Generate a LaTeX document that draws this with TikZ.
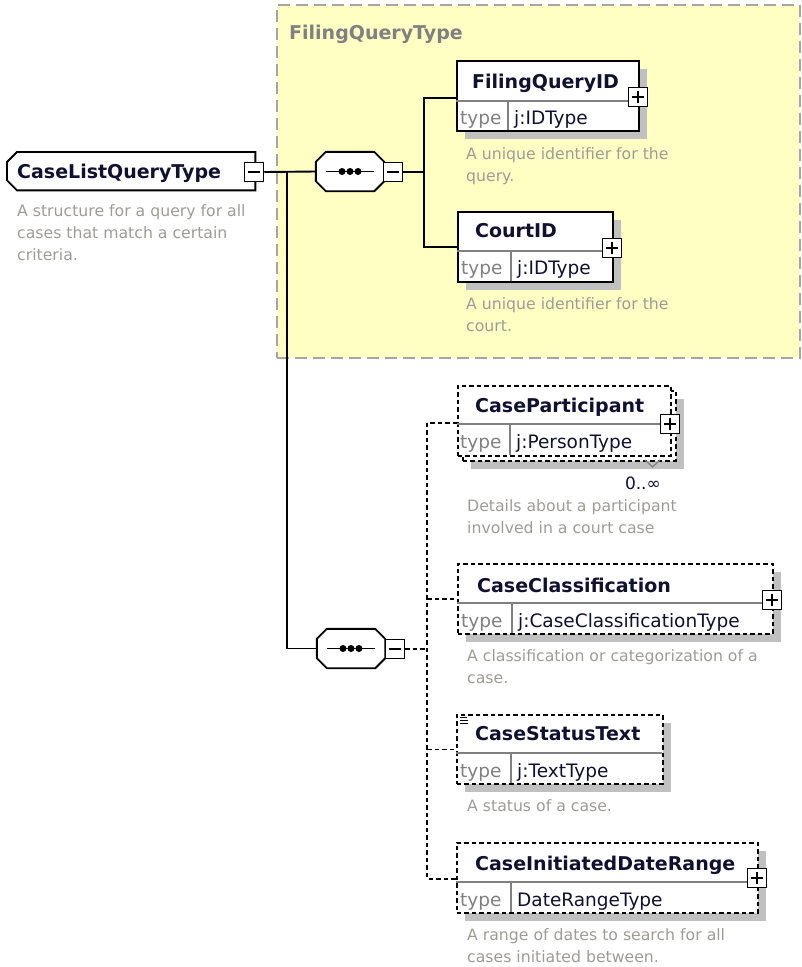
\documentclass[tikz,border=0pt]{standalone}
\usepackage{fontspec}
\setmainfont{DejaVu Sans}
\usetikzlibrary{shadows}
\definecolor{grpfill}{RGB}{255,255,196}
\definecolor{grpline}{RGB}{165,165,165}
\definecolor{shade}{RGB}{192,192,192}
\definecolor{desccol}{RGB}{158,156,150}
\definecolor{namecol}{RGB}{16,16,48}
\definecolor{typecol}{RGB}{128,128,128}
\definecolor{titlecol}{RGB}{128,128,128}
\tikzset{
  shadowed/.style={drop shadow={shadow xshift=8pt,shadow yshift=-8pt,opacity=1,fill=shade}},
  ebox/.style={rectangle,draw=black,line width=1.9pt,fill=white,inner sep=0pt},
  dbox/.style={ebox,line width=1.7pt,dash pattern=on 4.5pt off 3pt},
  divline/.style={draw=typecol,line width=1.2pt},
  pmbox/.style={rectangle,draw=black,line width=1.5pt,fill=white,minimum size=19pt,inner sep=0pt},
  pmsign/.style={black,line width=1.5pt},
  conn/.style={black,line width=1.9pt},
  dconn/.style={conn,line width=1.7pt,dash pattern=on 4.5pt off 3pt},
  octline/.style={draw=black,line width=1.9pt,fill=white},
  namet/.style={font=\fontsize{19}{22}\selectfont\bfseries,text=namecol,inner sep=0pt,anchor=base west},
  titlet/.style={namet,text=titlecol},
  typet/.style={font=\fontsize{18.5}{22}\selectfont,text=typecol,inner sep=0pt,anchor=base west},
  typev/.style={typet,text=namecol},
  desc/.style={font=\fontsize{15.7}{22}\selectfont,text=desccol,inner sep=0pt,anchor=base west,align=left},
  holder/.style={rectangle,inner sep=0pt},
}
% element box: name, style, x1, y1, x2, y2, ydiv, xcol
\newcommand{\ebx}[8]{%
  \node[#2,anchor=north west,minimum width={#5-#3},minimum height={#6-#4}] (#1) at (#3,#4) {};
  \draw[divline] (#3,#7) -- (#5,#7);
  \draw[divline] (#8,#7) -- (#8,#6);
}
\newcommand{\plusbox}[3]{%
  \node[pmbox] (#1) at (#2,#3) {};
  \draw[pmsign] ([xshift=-6pt]#1.center) -- ([xshift=6pt]#1.center);
  \draw[pmsign] ([yshift=-6pt]#1.center) -- ([yshift=6pt]#1.center);
}
\newcommand{\minusbox}[3]{%
  \node[pmbox] (#1) at (#2,#3) {};
  \draw[pmsign] ([xshift=-6pt]#1.center) -- ([xshift=6pt]#1.center);
}
\newcommand{\octpath}[1]{([xshift=10pt]#1.north west) -- ([xshift=-10pt]#1.north east) -- ([yshift=-10pt]#1.north east) -- ([yshift=10pt]#1.south east) -- ([xshift=-10pt]#1.south east) -- ([xshift=10pt]#1.south west) -- ([yshift=10pt]#1.south west) -- ([yshift=-10pt]#1.north west) -- cycle}
\newcommand{\seqicon}[1]{%
  \draw[conn] ([xshift=-24pt]#1.center) -- ([xshift=24pt]#1.center);
  \fill[black] ([xshift=-8pt]#1.center) circle (3.5pt);
  \fill[black] (#1.center) circle (3.5pt);
  \fill[black] ([xshift=8pt]#1.center) circle (3.5pt);
}
\begin{document}
\begin{tikzpicture}[x=1pt,y=-1pt]
\useasboundingbox (0,0) rectangle (801,967);
% group
\node[rectangle,draw=grpline,fill=grpfill,line width=1.5pt,dash pattern=on 12pt off 6pt,anchor=north west,minimum width=523pt,minimum height=353pt] (grp) at (276,4) {};
\node[titlet] (grpt) at (289,39) {FilingQueryType};

% holders
\node[holder,minimum width=248pt,minimum height=38pt,anchor=north west] (root) at (7,152) {};
\node[holder,minimum width=68pt,minimum height=39pt] (seq1) at (350,171.5) {};
\node[holder,minimum width=68pt,minimum height=39pt] (seq2) at (351,648.5) {};

% root shape
\fill[shade,shift={(8,8)}] ([xshift=10pt]root.north west) -- (root.north east) -- (root.south east) -- ([xshift=10pt]root.south west) -- ([yshift=10pt]root.south west) -- ([yshift=-10pt]root.north west) -- cycle;
\draw[octline] ([xshift=10pt]root.north west) -- (root.north east) -- (root.south east) -- ([xshift=10pt]root.south west) -- ([yshift=10pt]root.south west) -- ([yshift=-10pt]root.north west) -- cycle;
\node[namet] (rootname) at (17,178) {CaseListQueryType};
\node[desc] (rootdesc) at (17,260) {A structure for a query for all\\cases that match a certain\\criteria.};

% sequences
\fill[shade,shift={(8,8)}] \octpath{seq1};
\draw[octline] \octpath{seq1};
\seqicon{seq1}
\fill[shade,shift={(8,8)}] \octpath{seq2};
\draw[octline] \octpath{seq2};
\seqicon{seq2}

% connectors
\coordinate (trunk) at (287,172);
\coordinate (b1) at (424,172);
\coordinate (b2) at (427,649);

% FilingQueryID
\ebx{fq}{ebox,shadowed}{456}{60}{638}{130}{101}{508}
\node[namet] (fqn) at (472,88) {FilingQueryID};
\node[typet] (fqt) at (460,124) {type};
\node[typev] (fqv) at (514,124) {j:IDType};
\node[desc] (fqd) at (466,181) {A unique identifier for the\\query.};

% CourtID
\ebx{court}{ebox,shadowed}{457}{211}{612}{281}{251}{511}
\node[namet] (courtn) at (475,237) {CourtID};
\node[typet] (courtt) at (461,274) {type};
\node[typev] (courtv) at (517,274) {j:IDType};
\node[desc] (courtd) at (466,331) {A unique identifier for the\\court.};

% CaseParticipant (multiple)
\node[dbox,shadowed,anchor=north west,minimum width=213pt,minimum height=70pt] (cpback) at (462,390) {};
\ebx{cp}{dbox}{457}{385}{670}{455}{424}{510}
\node[namet] (cpn) at (475,412) {CaseParticipant};
\node[typet] (cpt) at (460,448) {type};
\node[typev] (cpv) at (516,448) {j:PersonType};
\draw[draw=typecol,line width=1.2pt] (645,460) -- (652.5,467) -- (660,460);
\node[font=\fontsize{17}{18}\selectfont,text=namecol,inner sep=0pt,anchor=base east] (cpocc) at (661,489) {0..∞};
\node[desc] (cpd) at (467,533) {Details about a participant\\involved in a court case};

% CaseClassification
\ebx{cc}{dbox,shadowed}{457}{563}{772}{633}{603}{512}
\node[namet] (ccn) at (477,592) {CaseClassification};
\node[typet] (cct) at (461,627) {type};
\node[typev] (ccv) at (518,627) {j:CaseClassificationType};
\node[desc] (ccd) at (467,683) {A classification or categorization of a\\case.};

% CaseStatusText
\ebx{cs}{dbox,shadowed}{456}{714}{662}{783}{753}{511}
\node[namet] (csn) at (475,740) {CaseStatusText};
\node[typet] (cst) at (460,777) {type};
\node[typev] (csv) at (517,777) {j:TextType};
\draw[black,line width=0.9pt] (460,717) -- (467,717) (460,720) -- (468,720) (460,723) -- (468,723);
\node[desc] (csd) at (467,811) {A status of a case.};

% CaseInitiatedDateRange
\ebx{cit}{dbox,shadowed}{456}{842}{757}{912}{882}{511}
\node[namet] (citn) at (475,870) {CaseInitiatedDateRange};
\node[typet] (citt) at (460,906) {type};
\node[typev] (citv) at (517,906) {DateRangeType};
\node[desc] (citd) at (467,962) {A range of dates to search for all\\cases initiated between.};

% plus / minus boxes
\minusbox{rm}{254}{172}
\minusbox{s1m}{393}{172}
\minusbox{s2m}{395}{649}
\plusbox{fqp}{638}{97}
\plusbox{courtp}{612}{248}
\plusbox{cpp}{670}{424}
\plusbox{ccp}{772}{600}
\plusbox{citp}{757}{878}

% lines
\draw[conn] (rm.east) -- (seq1.west);
\draw[conn] (trunk) |- (seq2.west);
\draw[conn] (s1m.east) -- (b1);
\draw[conn] ([yshift=-2pt]fq.west) -| (b1) |- (court.west);
\draw[dconn] (s2m.east) -- (b2);
\draw[dconn] ([yshift=-2pt]cp.west) -| (b2) |- ([yshift=-1pt]cit.west);
\draw[dconn] (b2 |- cc.west) -- (cc.west);
\draw[dconn] (b2 |- cs.west) -- (cs.west);
\end{tikzpicture}
\end{document}
